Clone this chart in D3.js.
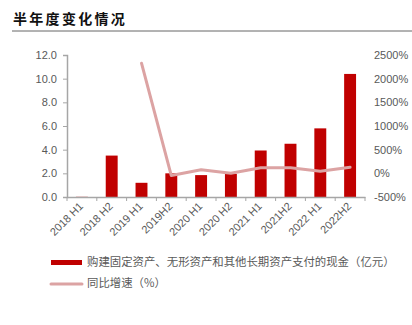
<!DOCTYPE html>
<html><head><meta charset="utf-8">
<script src="https://cdn.jsdelivr.net/npm/d3@7"></script>
<style>body{margin:0;background:#fff}svg{display:block}</style>
</head><body><svg id="c" width="412" height="325"></svg>
<script>
const categories = ["2018 H1","2018 H2","2019 H1","2019H2","2020 H1","2020 H2","2021 H1","2021H2","2022 H1","2022H2"];
const capex = [0.05,3.5,1.2,2.0,1.85,1.95,3.93,4.5,5.8,10.4];
const growth = [null,null,2327,-46,75,3,117,117,45,130];
const leftTicks = [0,2,4,6,8,10,12];
const rightTicks = [-500,0,500,1000,1500,2000,2500];
const title = "半年度变化情况";
const legendLabels = ["购建固定资产、无形资产和其他长期资产支付的现金（亿元）","同比增速（%）"];

const svg = d3.select("#c");
const cjk = "'Noto Sans CJK SC', sans-serif";
const latin = "'Liberation Sans', Arial, sans-serif";
const barColor = "#c00000", lineColor = "#dca3a3", axisColor = "#a6a6a6", textColor = "#595959";

svg.append("text").attr("x",13).attr("y",24).text(title)
  .attr("font-family",cjk).attr("font-size",14).attr("letter-spacing",2.3)
  .attr("font-weight","bold").attr("fill","#111");
svg.append("line").attr("x1",12).attr("x2",412).attr("y1",31).attr("y2",31)
  .attr("stroke","#666").attr("stroke-width",1);

const x = d3.scaleBand().domain(categories).range([67,365]).paddingInner(0.6).paddingOuter(0.3);
const yL = d3.scaleLinear().domain([0,12]).range([197,55]);
const yR = d3.scaleLinear().domain([-500,2500]).range([197,55]);

// bars
svg.append("g").selectAll("rect").data(categories).join("rect")
  .attr("x",d=>x(d)).attr("width",x.bandwidth())
  .attr("y",(d,i)=>yL(capex[i])).attr("height",(d,i)=>yL(0)-yL(capex[i]))
  .attr("fill",(d,i)=> i===0 ? "#e8b0b0" : barColor);

// left axis
const gL = svg.append("g").attr("transform","translate(67,0)")
  .call(d3.axisLeft(yL).tickValues(leftTicks).tickFormat(d3.format(".1f")).tickSize(4).tickPadding(6));
gL.select(".domain").attr("stroke",axisColor).attr("stroke-width",1.5);
gL.selectAll(".tick line").attr("stroke",axisColor);
gL.selectAll("text").attr("font-family",latin).attr("font-size",11).attr("fill",textColor);

// right axis (labels only)
const gR = svg.append("g").attr("transform","translate(368,0)")
  .call(d3.axisRight(yR).tickValues(rightTicks).tickFormat(d=>d+"%").tickSize(0).tickPadding(6));
gR.select(".domain").remove();
gR.selectAll("text").attr("font-family",latin).attr("font-size",11).attr("fill",textColor);

// bottom axis
const gB = svg.append("g").attr("transform","translate(0,197)")
  .call(d3.axisBottom(x).tickSize(0).tickPadding(0));
gB.select(".domain").attr("stroke",axisColor).attr("stroke-width",1.5);
gB.selectAll("text").attr("font-family",latin).attr("font-size",11).attr("fill",textColor)
  .attr("text-anchor","end").attr("dy","0")
  .attr("transform","translate(2,10) rotate(-45)");
// boundary ticks
const bounds = d3.range(categories.length+1).map(i=>67 + i*(365-67)/categories.length);
svg.append("g").selectAll("line").data(bounds).join("line")
  .attr("x1",d=>d).attr("x2",d=>d).attr("y1",197).attr("y2",201)
  .attr("stroke",axisColor).attr("stroke-width",1);

// line
const pts = categories.map((c,i)=>({c,v:growth[i]})).filter(d=>d.v!==null);
svg.append("path").datum(pts)
  .attr("d",d3.line().x(d=>x(d.c)+x.bandwidth()/2).y(d=>yR(d.v)))
  .attr("fill","none").attr("stroke",lineColor).attr("stroke-width",3)
  .attr("stroke-linecap","round").attr("stroke-linejoin","round");

// legend
const lg = svg.append("g");
lg.append("rect").attr("x",51).attr("y",260).attr("width",31).attr("height",5).attr("fill",barColor);
lg.append("line").attr("x1",51).attr("x2",82).attr("y1",284).attr("y2",284)
  .attr("stroke",lineColor).attr("stroke-width",3).attr("stroke-linecap","round");
lg.selectAll("text").data(legendLabels).join("text")
  .attr("x",87).attr("y",(d,i)=>266+i*21).text(d=>d)
  .attr("font-family",cjk).attr("font-size",11.4).attr("fill",textColor);
</script></body></html>
